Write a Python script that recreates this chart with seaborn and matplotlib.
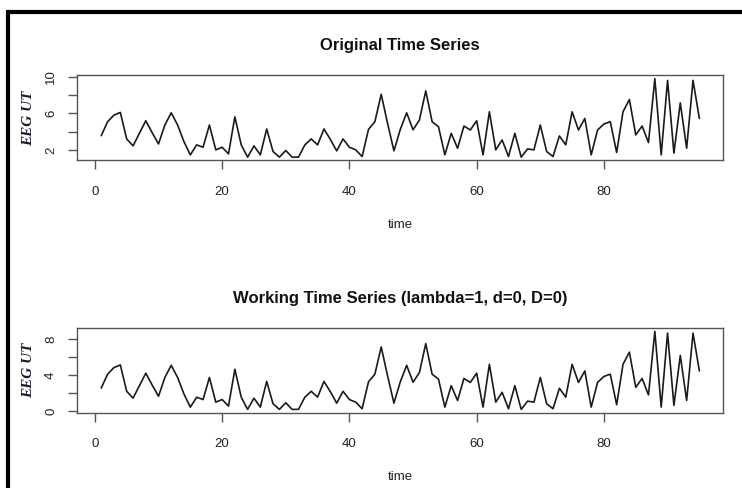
import matplotlib
matplotlib.use("Agg")
import matplotlib.pyplot as plt
import seaborn as sns
import pandas as pd
from matplotlib.lines import Line2D

time = list(range(1, 96))

original = [3.56, 5.09, 5.82, 6.11, 3.2, 2.44, 3.82, 5.2, 3.89, 2.65,
            4.73, 6.07, 4.73, 2.9, 1.45, 2.55, 2.29, 4.73, 2.0, 2.29,
            1.56, 5.63, 2.55, 1.2, 2.44, 1.45, 4.29, 1.82, 1.2, 1.93,
            1.2, 1.2, 2.55, 3.2, 2.55, 4.29, 3.16, 1.89, 3.2, 2.29,
            2.0, 1.27, 4.25, 5.09, 8.1, 4.9, 1.89, 4.25, 6.07, 4.2,
            5.27, 8.47, 5.09, 4.54, 1.45, 3.82, 2.18, 4.62, 4.18, 5.2,
            1.45, 6.18, 2.0, 3.09, 1.27, 3.82, 1.2, 2.11, 2.0, 4.73,
            1.82, 1.27, 3.53, 2.55, 6.18, 4.18, 5.45, 1.45, 4.18, 4.84,
            5.09, 1.71, 6.18, 7.53, 3.64, 4.62, 2.8, 9.82, 1.45, 9.63,
            1.64, 7.16, 2.18, 9.63, 5.45]

working = [2.56, 4.09, 4.82, 5.11, 2.2, 1.44, 2.82, 4.2, 2.89, 1.65,
           3.73, 5.07, 3.73, 1.9, 0.45, 1.55, 1.29, 3.73, 1.0, 1.29,
           0.56, 4.63, 1.55, 0.2, 1.44, 0.45, 3.29, 0.82, 0.2, 0.93,
           0.2, 0.2, 1.55, 2.2, 1.55, 3.29, 2.16, 0.89, 2.2, 1.29,
           1.0, 0.27, 3.25, 4.09, 7.1, 3.9, 0.89, 3.25, 5.07, 3.2,
           4.27, 7.47, 4.09, 3.54, 0.45, 2.82, 1.18, 3.62, 3.18, 4.2,
           0.45, 5.18, 1.0, 2.09, 0.27, 2.82, 0.2, 1.11, 1.0, 3.73,
           0.82, 0.27, 2.53, 1.55, 5.18, 3.18, 4.45, 0.45, 3.18, 3.84,
           4.09, 0.71, 5.18, 6.53, 2.64, 3.62, 1.8, 8.82, 0.45, 8.63,
           0.64, 6.16, 1.18, 8.63, 4.45]

titles = ["Original Time Series", "Working Time Series (lambda=1, d=0, D=0)"]
ylabel = "EEG UT"
xlabel = "time"
xticks = [0, 20, 40, 60, 80]
yticks_top = [2, 4, 6, 8, 10]
ylabels_top = ["2", "", "6", "", "10"]
yticks_bot = [0, 2, 4, 6, 8]
ylabels_bot = ["0", "", "4", "", "8"]

sns.set_theme(style="ticks")
plt.rcParams['font.family'] = ['Liberation Sans', 'DejaVu Sans']

fig = plt.figure(figsize=(7.42, 4.88), dpi=100)
fig.patch.set_facecolor("white")
ax1 = fig.add_axes([0.1042, 0.6715, 0.8706, 0.1738])
ax2 = fig.add_axes([0.1042, 0.1547, 0.8706, 0.1726])

panels = [
    (ax1, original, titles[0], yticks_top, ylabels_top),
    (ax2, working, titles[1], yticks_bot, ylabels_bot),
]

for ax, vals, title, yt, yl in panels:
    df = pd.DataFrame({"time": time, "value": vals})
    sns.lineplot(data=df, x="time", y="value", ax=ax, color="#1a1a1a", linewidth=1.2)
    lo, hi = min(vals), max(vals)
    pad = 0.04 * (hi - lo)
    ax.set_ylim(lo - pad, hi + pad)
    tpad = 0.04 * (time[-1] - time[0])
    ax.set_xlim(time[0] - tpad, time[-1] + tpad)
    ax.set_xticks(xticks)
    ax.set_xticklabels([str(t) for t in xticks])
    ax.set_yticks(yt)
    ax.set_yticklabels(yl, rotation=90, va="center")
    for s in ax.spines.values():
        s.set_visible(True)
        s.set_linewidth(1.0)
        s.set_color("#555555")
    ax.tick_params(axis="both", direction="out", length=6.5, width=1.0,
                   color="#555555", labelsize=9.5, labelcolor="#222222")
    ax.tick_params(axis="x", pad=12)
    ax.tick_params(axis="y", pad=8)
    ax.set_title(title, fontsize=12, fontweight="bold", pad=18, color="#111111")
    ax.set_xlabel(xlabel, fontsize=9.5, labelpad=15, color="#222222")
    ax.set_ylabel(ylabel, fontsize=11, family=["Liberation Serif", "DejaVu Serif"],
                  style="italic", fontweight="bold", labelpad=7, color="#1a1a2a")
    ax.grid(False)

# outer frame (left and top edges visible in reference)
fig.add_artist(Line2D([0.011, 0.011], [0.0, 0.9754], transform=fig.transFigure,
                      color="black", linewidth=3, solid_capstyle="butt"))
fig.add_artist(Line2D([0.0085, 1.0], [0.9754, 0.9754], transform=fig.transFigure,
                      color="black", linewidth=3, solid_capstyle="butt"))

fig.savefig("out.png", dpi=100, facecolor="white")
